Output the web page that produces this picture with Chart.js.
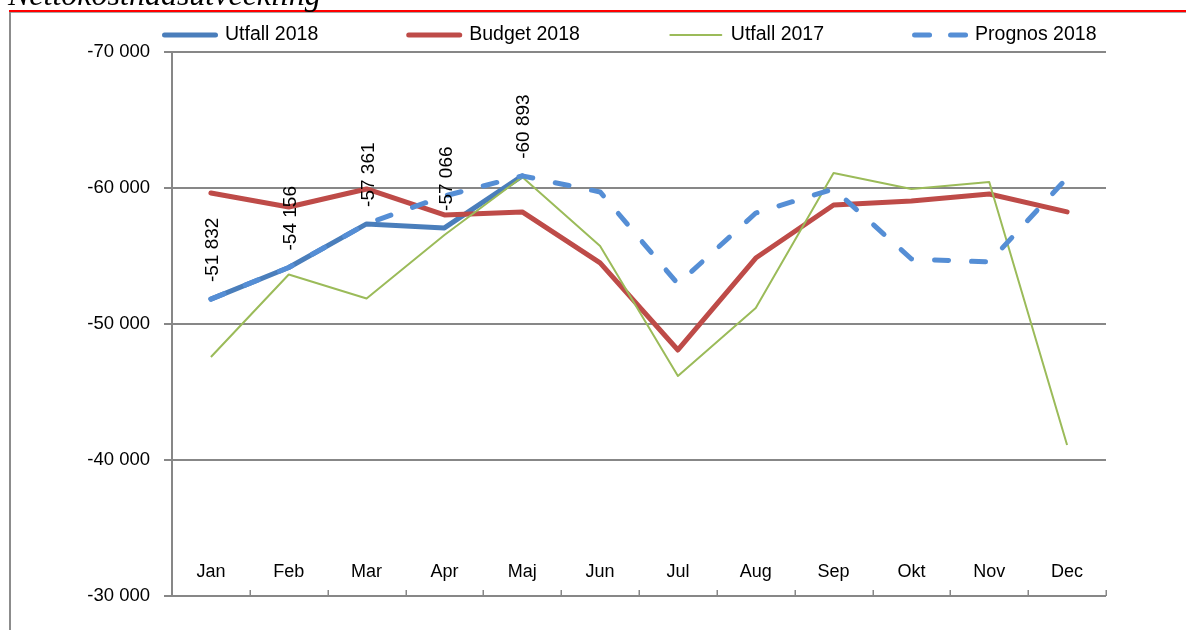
<!DOCTYPE html>
<html><head><meta charset="utf-8">
<script src="https://cdn.jsdelivr.net/npm/chart.js@4.4.1/dist/chart.umd.min.js"></script>
<style>html,body{margin:0;padding:0;background:#fff;overflow:hidden}#wrap{position:relative;width:1186px;height:630px}canvas{display:block}</style>
</head><body><div id="wrap"><canvas id="c" width="1186" height="630"></canvas></div>
<script>
const titleText = 'Nettokostnadsutveckling';
const categories = ['Jan','Feb','Mar','Apr','Maj','Jun','Jul','Aug','Sep','Okt','Nov','Dec'];
const seriesNames = ['Utfall 2018','Budget 2018','Utfall 2017','Prognos 2018'];
const utfall2018 = [-51832,-54156,-57361,-57066,-60893,null,null,null,null,null,null,null];
const budget2018 = [-59630,-58600,-59930,-58020,-58240,-54490,-48090,-54850,-58750,-59040,-59560,-58240];
const utfall2017 = [-47570,-53640,-51880,-56540,-60810,-55740,-46180,-51180,-61100,-59930,-60440,-41100];
const prognos2018 = [-51832,-54156,-57361,-59410,-60893,-59710,-52940,-58160,-59930,-54780,-54560,-60740];
const yTicks = [-70000,-60000,-50000,-40000,-30000];

const FONT = '"Liberation Sans", Arial, sans-serif';
function fmt(v){ const s = Math.abs(Math.round(v)).toString().replace(/\B(?=(\d{3})+(?!\d))/g,' '); return (v<0?'-':'')+s; }

const decor = {
  id:'decor',
  beforeDraw(chart){
    const ctx = chart.ctx;
    ctx.save();
    ctx.fillStyle = '#ff0000'; ctx.fillRect(9,10,1177,2);
    ctx.fillStyle = '#a6a6a6'; ctx.fillRect(9,12,1177,1);
    ctx.fillStyle = '#8c8c8c'; ctx.fillRect(9,12,2,618);
    ctx.fillStyle = '#000';
    ctx.font = 'italic 32px "Liberation Serif", "Times New Roman", serif';
    ctx.textBaseline = 'alphabetic'; ctx.textAlign = 'left';
    ctx.fillText(titleText, 8, 5);
    ctx.restore();
  },
  afterDraw(chart){
    const ctx = chart.ctx, xs = chart.scales.x, a = chart.chartArea;
    ctx.save();
    ctx.font = '18px ' + FONT; ctx.fillStyle = '#000';
    ctx.textAlign = 'center'; ctx.textBaseline = 'middle';
    categories.forEach((c,i)=>{ ctx.fillText(c, xs.getPixelForValue(i), a.bottom - 24); });
    ctx.strokeStyle = '#878787'; ctx.lineWidth = 1.5;
    const n = categories.length;
    for (let i=0;i<=n;i++){
      let bx;
      if (i===0) bx = a.left; else if (i===n) bx = a.right;
      else bx = (xs.getPixelForValue(i-1)+xs.getPixelForValue(i))/2;
      bx = Math.round(bx)+0.25;
      ctx.beginPath(); ctx.moveTo(bx, a.bottom); ctx.lineTo(bx, a.bottom-6); ctx.stroke();
    }
    ctx.font = '19.5px ' + FONT; ctx.textAlign = 'left'; ctx.textBaseline = 'middle';
    let x = a.left - 10; const ly = 35;
    chart.data.datasets.forEach((ds)=>{
      ctx.save();
      ctx.strokeStyle = ds.borderColor; ctx.lineWidth = ds.borderWidth;
      ctx.lineCap = 'round';
      if (ds.borderDash){ ctx.setLineDash([15,21]); }
      ctx.beginPath(); ctx.moveTo(x+2.5, ly); ctx.lineTo(x+53.5, ly); ctx.stroke();
      ctx.restore();
      ctx.fillStyle = '#000';
      ctx.fillText(ds.label, x+63, ly);
      x += 63 + ctx.measureText(ds.label).width + 88;
    });
    ctx.restore();
  },
  afterDatasetsDraw(chart){
    const ctx = chart.ctx, meta = chart.getDatasetMeta(0);
    ctx.save();
    ctx.font = '19px ' + FONT; ctx.fillStyle = '#000';
    ctx.textAlign = 'left'; ctx.textBaseline = 'middle';
    meta.data.forEach((pt,i)=>{
      const v = utfall2018[i];
      if (v===null || v===undefined) return;
      ctx.save();
      ctx.translate(pt.x+2, pt.y-17);
      ctx.rotate(-Math.PI/2);
      ctx.fillText(fmt(v), 0, 0);
      ctx.restore();
    });
    ctx.restore();
  }
};

new Chart(document.getElementById('c'), {
  type:'line',
  data:{
    labels: categories,
    datasets:[
      {label:seriesNames[0], data:utfall2018, borderColor:'#4A7EBB', borderWidth:5, order:4, borderCapStyle:'round', borderJoinStyle:'round', spanGaps:false},
      {label:seriesNames[1], data:budget2018, borderColor:'#BE4B48', borderWidth:5, order:3, borderCapStyle:'round', borderJoinStyle:'round'},
      {label:seriesNames[2], data:utfall2017, borderColor:'#9BBB59', borderWidth:2, order:2, borderJoinStyle:'round'},
      {label:seriesNames[3], data:prognos2018, borderColor:'#558ED5', borderWidth:5, order:1, borderDash:[14,23], borderCapStyle:'round', borderJoinStyle:'round'}
    ]
  },
  options:{
    responsive:false, animation:false, devicePixelRatio:1,
    layout:{padding:{left:10,right:80,top:52,bottom:34}},
    plugins:{legend:{display:false}, tooltip:{enabled:false}, title:{display:false}},
    elements:{point:{radius:0,hoverRadius:0}, line:{tension:0}},
    scales:{
      x:{type:'category', display:false, offset:true},
      y:{min:-70000, max:-30000, reverse:true,
         afterFit:(s)=>{ s.width = 162; },
         afterBuildTicks:(s)=>{ s.ticks = yTicks.map(v=>({value:v})); },
         ticks:{padding:14, color:'#000', font:{family:FONT, size:18.5}, callback:(v)=>fmt(v)},
         grid:{color:'#878787', lineWidth:2, tickLength:8, drawTicks:true},
         border:{color:'#878787', width:2}
      }
    }
  },
  plugins:[decor]
});
</script></body></html>
